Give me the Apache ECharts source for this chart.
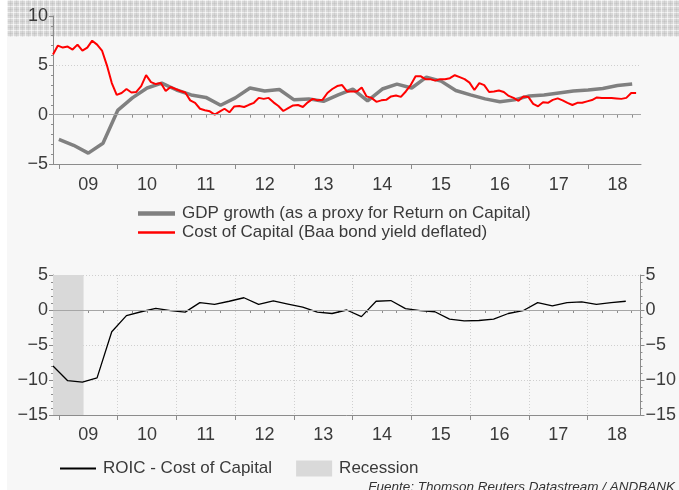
<!DOCTYPE html>
<html>
<head>
<meta charset="utf-8">
<script src="https://cdn.jsdelivr.net/npm/echarts@6/dist/echarts.min.js"></script>
<style>
html,body{margin:0;padding:0;background:#ffffff;}
#wrap{position:relative;width:679px;height:490px;overflow:hidden;background:#ffffff;}
#panel{position:absolute;left:7px;top:0;width:672px;height:490px;background:#f7f7f7;}
#header{position:absolute;left:7px;top:0;width:672px;height:37px;
  background-color:#d8d8d8;
  background-image:repeating-linear-gradient(90deg, rgba(255,255,255,0.6) 0 1px, transparent 1px 3px, rgba(0,0,0,0.05) 3px 4px, transparent 4px 6px),
                   repeating-linear-gradient(0deg, rgba(255,255,255,0.6) 0 1px, transparent 1px 3px, rgba(0,0,0,0.05) 3px 4px, transparent 4px 6px);}
#chart{position:absolute;left:0;top:0;width:679px;height:490px;}
</style>
</head>
<body>
<div id="wrap">
  <div id="panel"></div>
  <div id="header"></div>
  <div id="chart"></div>
</div>
<script>
// ---------------- data ----------------
// GDP growth, quarterly, first point 2009 Q1
const gdpStart = 2009.0;
const gdpStep = 0.25;
const gdpGrowth = [-2.5,-3.1,-3.9,-2.9,0.43,1.7,2.7,3.2,2.5,2.0,1.75,0.95,1.7,2.7,2.4,2.55,1.5,1.6,1.35,2.0,
  2.6,1.4,2.6,3.1,2.7,3.8,3.4,2.45,2.0,1.6,1.3,1.5,1.9,2.0,2.2,2.4,2.5,2.65,2.95,3.1];

// Cost of capital, monthly, first point Nov 2008
const costStart = 2008.9;
const costStep = 1/12;
const costOfCapital = [6.1,7.0,6.8,6.9,6.6,7.1,6.5,6.8,7.5,7.1,6.5,5.0,3.2,2.0,2.2,2.6,2.25,2.3,2.9,4.0,
  3.3,3.1,3.2,2.4,2.8,2.6,2.4,2.25,1.45,1.2,0.6,0.45,0.34,0.0,0.3,0.6,0.24,0.84,0.88,0.78,
  1.0,1.2,1.7,1.6,1.7,1.25,0.88,0.37,0.67,0.94,0.98,0.78,1.25,1.6,1.45,1.5,2.2,2.6,2.9,3.0,
  2.35,2.35,2.35,2.75,1.85,1.7,1.3,1.45,1.5,1.85,1.95,1.8,2.35,3.0,3.9,3.9,3.6,3.6,3.45,3.6,
  3.6,3.7,4.0,3.8,3.6,3.25,2.5,3.2,3.0,2.3,2.35,2.45,2.3,1.9,1.7,1.4,1.85,1.8,1.1,0.85,
  1.25,1.2,1.5,1.65,1.45,1.2,0.98,1.2,1.2,1.35,1.48,1.75,1.7,1.7,1.7,1.65,1.6,1.7,2.2,2.2];

// ROIC - Cost of capital, quarterly, first point Q4 2008
const roicStart = 2008.9;
const roicStep = 0.25;
const roicMinusCost = [-8.0,-10.1,-10.3,-9.7,-3.1,-0.8,-0.25,0.24,-0.1,-0.3,1.05,0.8,1.25,1.75,0.8,1.3,0.85,0.4,-0.3,-0.5,
  0.0,-0.95,1.25,1.35,0.2,-0.1,-0.25,-1.3,-1.55,-1.5,-1.3,-0.5,-0.1,1.05,0.6,1.05,1.15,0.8,1.05,1.25];

// Recession period
const recession = [2008.9, 2009.42];

// Axes
const xMin = 2008.9, xMax = 2018.9;
const yearTicks = [2009,2010,2011,2012,2013,2014,2015,2016,2017,2018];
const yearLabels = ['09','10','11','12','13','14','15','16','17','18'];
const topY = {min:-5, max:10, interval:5};
const botY = {min:-15, max:5, interval:5};

const names = {
  gdp: 'GDP growth (as a proxy for Return on Capital)',
  cost: 'Cost of Capital (Baa bond yield deflated)',
  roic: 'ROIC - Cost of Capital',
  rec: 'Recession'
};
const source = 'Fuente: Thomson Reuters Datastream / ANDBANK';

// ---------------- build ----------------
function pairs(start, step, vals){ return vals.map((v,i)=>[start + i*step, v]); }
const labelPos = yearTicks.map(y => y + 0.5);
const quarterTicks = [];
yearTicks.forEach(y => { [0.25,0.5,0.75].forEach(q => quarterTicks.push(y+q)); });

const FONT = 'Liberation Sans, Arial, sans-serif';
const TXT = '#3a3a3a';
const AXC = '#8c8c8c';

function mainX(grid, splitShow, margin){
  return {
    type:'value', gridIndex:grid, min:xMin, max:xMax, position:'bottom',
    axisLine:{show:true, onZero:false, lineStyle:{color:AXC, width:1}},
    axisTick:{show:true, customValues:yearTicks, length:5, lineStyle:{color:AXC}},
    axisLabel:{show:true, customValues:labelPos, formatter:v=>yearLabels[yearTicks.indexOf(Math.floor(v+1e-6))],
      color:TXT, fontSize:18, fontFamily:FONT, margin:margin},
    splitLine:{show:splitShow, lineStyle:{color:'#d0d0d0', type:[1,2], width:1}}
  };
}
function minorX(grid){
  return {
    type:'value', gridIndex:grid, min:xMin, max:xMax, position:'bottom',
    axisLine:{show:false}, axisLabel:{show:false}, splitLine:{show:false},
    axisTick:{show:true, customValues:quarterTicks.filter(v=>v>xMin && v<xMax), length:3, lineStyle:{color:AXC}}
  };
}
function yAx(grid, r, pos, showLine){
  return {
    type:'value', gridIndex:grid, min:r.min, max:r.max, interval:r.interval, position:pos,
    axisLine:{show:true, onZero:false, lineStyle:{color:AXC}},
    axisTick:{show:true, length:4, lineStyle:{color:AXC}},
    minorTick:{show:true, splitNumber:5, length:2, lineStyle:{color:AXC}},
    axisLabel:{color:TXT, fontSize:18, fontFamily:FONT, margin:5, formatter:v=>String(v).replace('-','\u2212')},
    splitLine:{show:showLine, lineStyle:{color:'#cfcfcf', type:[1,2], width:1}}
  };
}
const zeroLine = {silent:true, symbol:'none', label:{show:false},
  lineStyle:{color:'#a6a6a6', type:'solid', width:1.2}, data:[{yAxis:0}]};

const option = {
  animation:false,
  backgroundColor:'transparent',
  textStyle:{fontFamily:FONT},
  grid:[
    {left:53, right:38, top:16, height:148},
    {left:53, right:37, top:275, height:140}
  ],
  xAxis:[ mainX(0,false,12), minorX(0), mainX(1,true,11), minorX(1) ],
  yAxis:[ yAx(0, topY, 'left', true), yAx(1, botY, 'left', true), yAx(1, botY, 'right', false) ],
  legend:[
    {data:[{name:names.gdp, icon:'path://M0,0H30V3.5H0Z'}, {name:names.cost, icon:'path://M0,0H30V2.2H0Z'}],
     orient:'vertical', left:133, top:200, itemGap:2, symbolKeepAspect:true,
     itemWidth:37, itemHeight:14, textStyle:{color:TXT, fontSize:17, fontFamily:FONT, padding:[0,0,0,2]}},
    {data:[{name:names.roic, icon:'path://M0,0H30V1.5H0Z'}, {name:names.rec, icon:'rect'}],
     orient:'horizontal', left:55, top:455, itemGap:24, symbolKeepAspect:true,
     itemWidth:36, itemHeight:16, textStyle:{color:TXT, fontSize:17, fontFamily:FONT, padding:[0,0,0,2]}}
  ],
  graphic:[
    {type:'text', right:4, top:480, style:{text:source, fill:'#333', font:'italic 13.5px '+FONT, textAlign:'right'}}
  ],
  series:[
    {name:names.rec, type:'line', xAxisIndex:2, yAxisIndex:1, data:[], symbol:'none',
     itemStyle:{color:'#d9d9d9'}, lineStyle:{color:'#d9d9d9'},
     markArea:{silent:true, itemStyle:{color:'#d9d9d9'}, data:[[{xAxis:recession[0]},{xAxis:recession[1]}]]}},
    {name:names.gdp, type:'line', xAxisIndex:0, yAxisIndex:0, data:pairs(gdpStart,gdpStep,gdpGrowth),
     symbol:'none', lineStyle:{color:'#808080', width:3.5}, itemStyle:{color:'#808080'}, markLine:zeroLine, z:3},
    {name:names.cost, type:'line', xAxisIndex:0, yAxisIndex:0, data:pairs(costStart,costStep,costOfCapital),
     symbol:'none', lineStyle:{color:'#ff0000', width:2}, itemStyle:{color:'#ff0000'}, z:4},
    {name:names.roic, type:'line', xAxisIndex:2, yAxisIndex:1, data:pairs(roicStart,roicStep,roicMinusCost),
     symbol:'none', lineStyle:{color:'#000000', width:1.3}, itemStyle:{color:'#000000'}, markLine:zeroLine, z:4}
  ]
};
const chart = echarts.init(document.getElementById('chart'), null, {renderer:'canvas'});
chart.setOption(option);
</script>
</body>
</html>
